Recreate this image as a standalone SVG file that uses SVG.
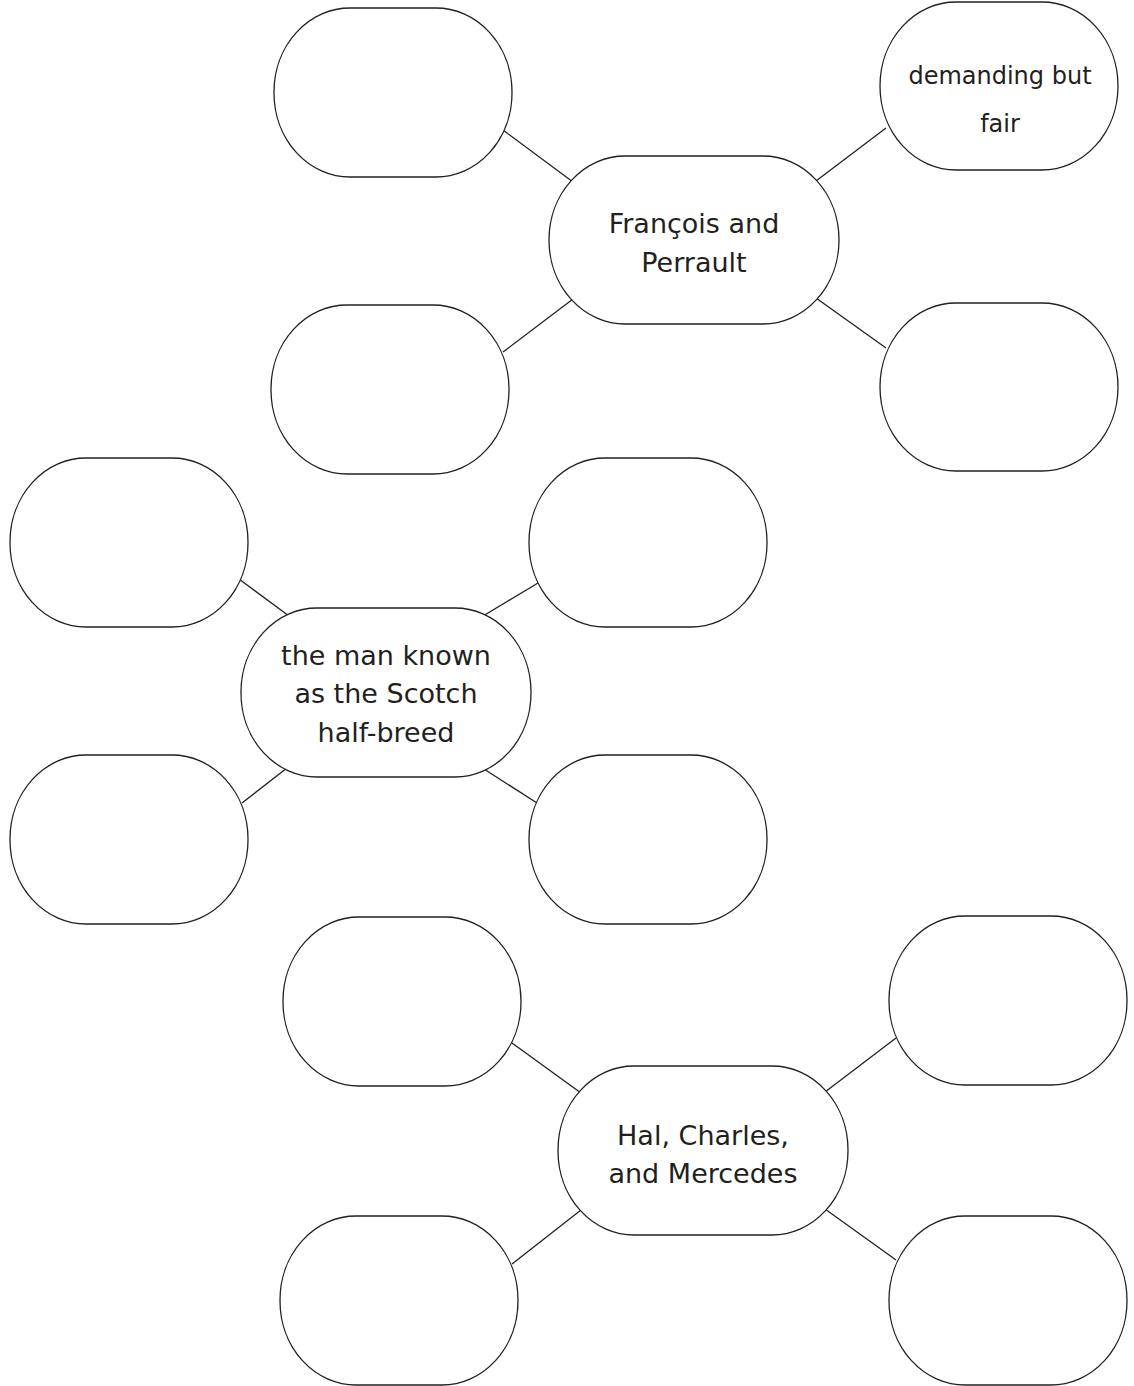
<svg xmlns="http://www.w3.org/2000/svg" width="1134" height="1386" viewBox="0 0 1134 1386">
<style>
.n{fill:#fff;stroke:#231f20;stroke-width:1.3}
.c{stroke:#231f20;stroke-width:1.3;fill:none}
.t{font-family:"DejaVu Sans","Liberation Sans",sans-serif;font-size:27px;fill:#231f20;text-anchor:middle}
.h{font-family:"DejaVu Sans","Liberation Sans",sans-serif;font-size:24px;fill:#231f20;text-anchor:middle}
</style>
<rect width="1134" height="1386" fill="#fff"/>
<g id="connectors">
<line class="c" x1="503" y1="130" x2="573" y2="182"/>
<line class="c" x1="816" y1="181" x2="886" y2="128"/>
<line class="c" x1="503" y1="352" x2="573" y2="299"/>
<line class="c" x1="816" y1="298" x2="886" y2="348"/>
<line class="c" x1="239" y1="579" x2="289" y2="616"/>
<line class="c" x1="483" y1="616" x2="538" y2="583"/>
<line class="c" x1="242" y1="803" x2="287" y2="768"/>
<line class="c" x1="484" y1="769" x2="537" y2="803"/>
<line class="c" x1="512" y1="1043" x2="581" y2="1093"/>
<line class="c" x1="825" y1="1092" x2="896" y2="1038"/>
<line class="c" x1="512" y1="1264" x2="581" y2="1210"/>
<line class="c" x1="825" y1="1209" x2="896" y2="1260"/>
</g>
<g id="top-tl"><rect class="n" x="274" y="8" width="238" height="169" rx="76" ry="84"/></g>
<g id="top-tr"><rect class="n" x="880" y="2" width="238" height="168" rx="76" ry="84"/>
<text class="h" x="1000" y="84">demanding but</text>
<text class="h" x="1000" y="132">fair</text></g>
<g id="top-center"><rect class="n" x="549" y="156" width="290" height="168" rx="76" ry="84"/>
<text class="t" x="694" y="233">François and</text>
<text class="t" x="694" y="272">Perrault</text></g>
<g id="top-bl"><rect class="n" x="271" y="305" width="238" height="169" rx="76" ry="84"/></g>
<g id="top-br"><rect class="n" x="880" y="303" width="238" height="168" rx="76" ry="84"/></g>
<g id="mid-tl"><rect class="n" x="10" y="458" width="238" height="169" rx="76" ry="84"/></g>
<g id="mid-tr"><rect class="n" x="529" y="458" width="238" height="169" rx="76" ry="84"/></g>
<g id="mid-center"><rect class="n" x="241" y="608" width="290" height="169" rx="76" ry="84"/>
<text class="t" x="386" y="665">the man known</text>
<text class="t" x="386" y="703">as the Scotch</text>
<text class="t" x="386" y="742">half-breed</text></g>
<g id="mid-bl"><rect class="n" x="10" y="755" width="238" height="169" rx="76" ry="84"/></g>
<g id="mid-br"><rect class="n" x="529" y="755" width="238" height="169" rx="76" ry="84"/></g>
<g id="bot-tl"><rect class="n" x="283" y="917" width="238" height="169" rx="76" ry="84"/></g>
<g id="bot-tr"><rect class="n" x="889" y="916" width="238" height="169" rx="76" ry="84"/></g>
<g id="bot-center"><rect class="n" x="558" y="1066" width="290" height="169" rx="76" ry="84"/>
<text class="t" x="703" y="1145">Hal, Charles,</text>
<text class="t" x="703" y="1183">and Mercedes</text></g>
<g id="bot-bl"><rect class="n" x="280" y="1216" width="238" height="169" rx="76" ry="84"/></g>
<g id="bot-br"><rect class="n" x="889" y="1216" width="238" height="169" rx="76" ry="84"/></g>
</svg>
